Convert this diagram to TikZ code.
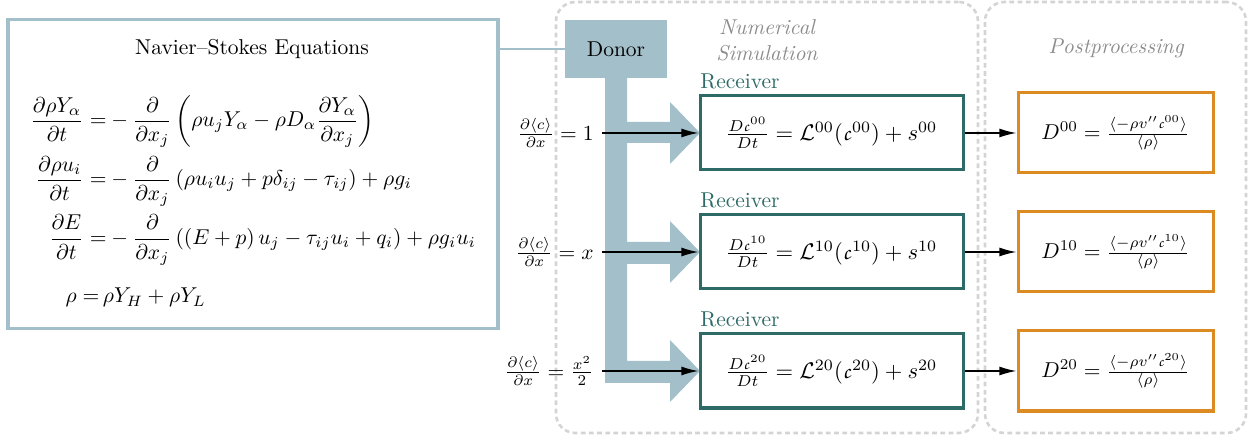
\documentclass[tikz,border=0pt]{standalone}
\usepackage{amsmath}
\usetikzlibrary{arrows.meta}
\DeclareMathAlphabet{\mathpzc}{OT1}{pzc}{m}{it}
\definecolor{lblue}{HTML}{A3BFCA}
\definecolor{tealc}{HTML}{2E6B67}
\definecolor{orng}{HTML}{DC8B22}
\definecolor{dgray}{HTML}{D4D4D4}
\definecolor{tgray}{HTML}{8C8C8C}
\begin{document}
\begin{tikzpicture}[x=0.465pt,y=-0.465pt,
  box/.style n args={3}{draw=#1, line width=1.4pt, minimum width=#2*0.465pt, minimum height=#3*0.465pt, inner sep=0pt, fill=white},
  container/.style n args={2}{draw=dgray, line width=1.2pt, dash pattern=on 2.2pt off 1.6pt, rounded corners=9pt, minimum width=#1*0.465pt, minimum height=#2*0.465pt, inner sep=0pt},
  link/.style={line width=0.7pt, -{Latex[length=8pt,width=4.2pt]}},
  lab/.style={inner xsep=3.7pt, inner ysep=0pt, anchor=east},
  rlab/.style={anchor=base west, inner sep=0pt, text=tealc},
  stage/.style={text=tgray, font=\itshape, align=center, inner sep=0pt}
]
\useasboundingbox (0,0) rectangle (1248,440);
% containers
\node[container={422}{431}] (numc) at (767,217.5) {};
\node[container={261}{431}] (postc) at (1115.5,217.5) {};
\node[stage] (numt) at (767,40) {Numerical\\Simulation};
\node[stage, anchor=base] (postt) at (1116,54) {Postprocessing};
% Navier-Stokes box
\node[box={lblue}{490}{309}] (ns) at (253,174.5) {};
\node[anchor=base, inner sep=0pt] (nst) at (252,55) {Navier--Stokes Equations};
\node[inner sep=0pt] (nseq) at (253,203) {$\begin{aligned}
\frac{\partial\rho Y_\alpha}{\partial t} =&-\frac{\partial}{\partial x_j}\left(\rho u_j Y_\alpha-\rho D_\alpha\frac{\partial Y_\alpha}{\partial x_j}\right)\\
\frac{\partial\rho u_i}{\partial t} =&-\frac{\partial}{\partial x_j}\left(\rho u_iu_j+p\delta_{ij}-\tau_{ij}\right)+\rho g_i\\
\frac{\partial E}{\partial t} =&-\frac{\partial}{\partial x_j}\left(\left(E+p\right)u_j-\tau_{ij}u_i+q_i\right)+\rho g_iu_i\\[5pt]
\rho =\mkern6mu&\mkern-3mu\rho Y_H+\rho Y_L
\end{aligned}$};
% donor
\node[fill=lblue, minimum width=102*0.465pt, minimum height=58*0.465pt, inner sep=0pt] (donor) at (616,49) {Donor};
\draw[lblue, line width=1.2pt] (ns.east |- donor.west) -- (donor.west);
% distribution band
\fill[lblue] (605,78) -- (627,78) -- (627,122) -- (670,122) -- (670,102) -- (700,133) -- (670,164) -- (670,143) -- (627,143)
  -- (627,242) -- (670,242) -- (670,221) -- (700,252) -- (670,283) -- (670,264) -- (627,264)
  -- (627,361) -- (670,361) -- (670,340) -- (700,371) -- (670,402) -- (670,383) -- (605,383) -- cycle;
% receivers
\node[box={tealc}{263}{74}] (r1) at (831.5,133) {\scalebox{1.05}{$\frac{D\mathpzc{c}^{00}}{Dt}=\mathcal{L}^{00}(\mathpzc{c}^{00})+s^{00}$}};
\node[box={tealc}{263}{74}] (r2) at (831.5,252) {\scalebox{1.05}{$\frac{D\mathpzc{c}^{10}}{Dt}=\mathcal{L}^{10}(\mathpzc{c}^{10})+s^{10}$}};
\node[box={tealc}{263}{74}] (r3) at (831.5,371) {\scalebox{1.05}{$\frac{D\mathpzc{c}^{20}}{Dt}=\mathcal{L}^{20}(\mathpzc{c}^{20})+s^{20}$}};
\node[rlab] (rl1) at (700,89) {Receiver};
\node[rlab] (rl2) at (700,208) {Receiver};
\node[rlab] (rl3) at (700,327) {Receiver};
% postprocessing
\node[box={orng}{195}{80}] (p1) at (1115.5,133) {$D^{00}=\frac{\langle-\rho v''\mathpzc{c}^{00}\rangle}{\langle\rho\rangle}$};
\node[box={orng}{195}{80}] (p2) at (1115.5,252) {$D^{10}=\frac{\langle-\rho v''\mathpzc{c}^{10}\rangle}{\langle\rho\rangle}$};
\node[box={orng}{195}{80}] (p3) at (1115.5,371) {$D^{20}=\frac{\langle-\rho v''\mathpzc{c}^{20}\rangle}{\langle\rho\rangle}$};
% gradient labels
\node[lab] (l1) at (602,133) {$\frac{\partial\langle c\rangle}{\partial x}=1$};
\node[lab] (l2) at (602,252) {$\frac{\partial\langle c\rangle}{\partial x}=x$};
\node[lab] (l3) at (602,371) {$\frac{\partial\langle c\rangle}{\partial x}=\frac{x^2}{2}$};
% arrows
\draw[link] (l1.east) -- (r1.west);
\draw[link] (l2.east) -- (r2.west);
\draw[link] (l3.east) -- (r3.west);
\draw[link] (r1.east) -- (p1.west);
\draw[link] (r2.east) -- (p2.west);
\draw[link] (r3.east) -- (p3.west);
\end{tikzpicture}
\end{document}
